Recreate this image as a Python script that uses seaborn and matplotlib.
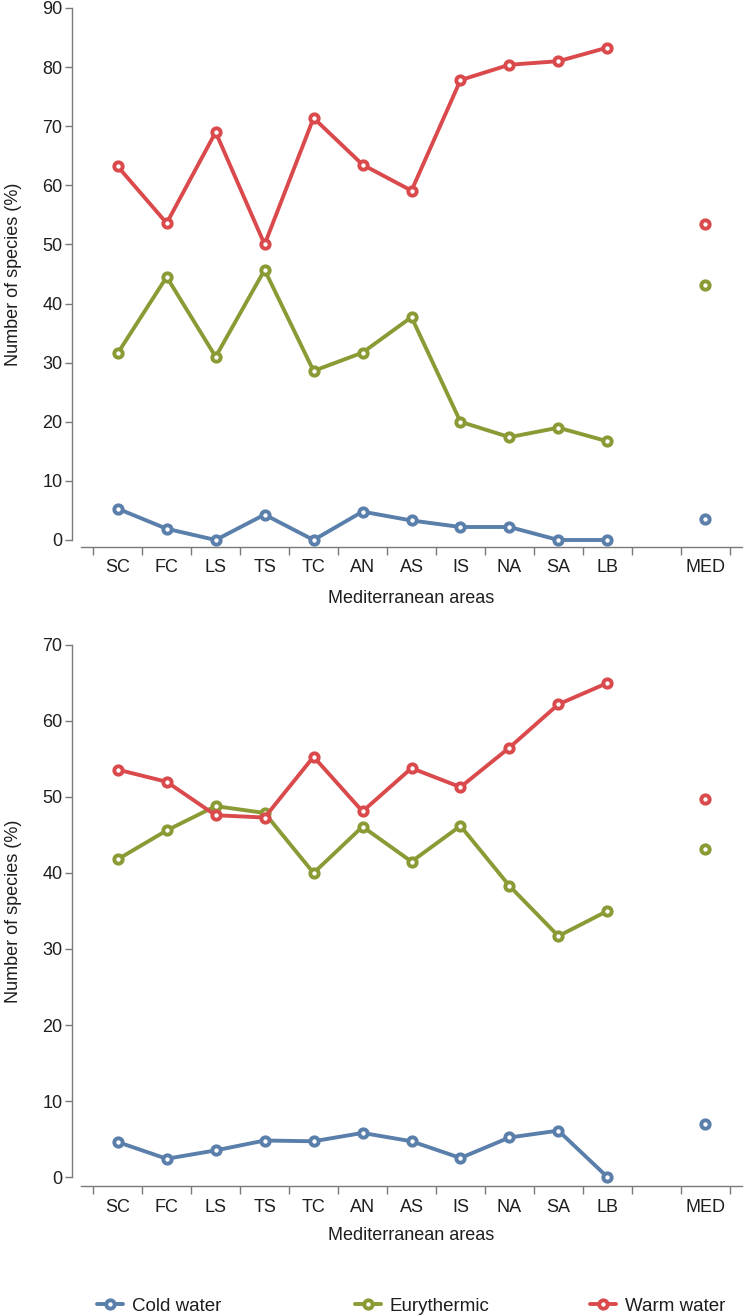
import matplotlib
matplotlib.use('Agg')
import matplotlib.pyplot as plt
import numpy as np
import pandas as pd
import seaborn as sns

# 海域（从西到东），MED = 全地中海
AREAS = ['SC', 'FC', 'LS', 'TS', 'TC', 'AN', 'AS', 'IS', 'NA', 'SA', 'LB']
OVERALL = 'MED'
GROUPS = ['Cold water', 'Eurythermic', 'Warm water']
COLORS = ['#5a7fab', '#8c9a35', '#da4a4c']

# 上图 (%)
COLD_A = [5.3, 1.9, 0.0, 4.3, 0.0, 4.8, 3.3, 2.2, 2.2, 0.0, 0.0]
EURY_A = [31.6, 44.5, 31.0, 45.7, 28.6, 31.7, 37.7, 20.0, 17.4, 19.0, 16.7]
WARM_A = [63.2, 53.6, 69.0, 50.0, 71.4, 63.5, 59.1, 77.8, 80.4, 81.0, 83.3]
MED_A = [3.5, 43.1, 53.5]

# 下图 (%)
COLD_B = [4.6, 2.4, 3.5, 4.8, 4.7, 5.8, 4.7, 2.5, 5.2, 6.1, 0.0]
EURY_B = [41.8, 45.6, 48.8, 47.9, 40.0, 46.1, 41.5, 46.2, 38.3, 31.7, 35.0]
WARM_B = [53.6, 52.0, 47.6, 47.3, 55.3, 48.1, 53.8, 51.3, 56.5, 62.2, 65.0]
MED_B = [7.0, 43.2, 49.8]

YMAX_A = 90
YMAX_B = 70

# 分类位置，MED 前空一格
POS = list(range(len(AREAS)))
MED_POS = len(AREAS) + 1

sns.set_theme(style='ticks')
plt.rcParams['font.family'] = ['Liberation Sans', 'DejaVu Sans']
plt.rcParams['font.size'] = 13
plt.rcParams['xtick.labelsize'] = 13
plt.rcParams['ytick.labelsize'] = 13
plt.rcParams['axes.labelsize'] = 13
plt.rcParams['legend.fontsize'] = 13
plt.rcParams['axes.edgecolor'] = '#7a7a7a'
plt.rcParams['axes.linewidth'] = 1.0
plt.rcParams['xtick.color'] = '#7a7a7a'
plt.rcParams['ytick.color'] = '#7a7a7a'
plt.rcParams['xtick.labelcolor'] = '#1e1e1e'
plt.rcParams['ytick.labelcolor'] = '#1e1e1e'
plt.rcParams['text.color'] = '#1e1e1e'
plt.rcParams['axes.labelcolor'] = '#1e1e1e'


def build_frame(cold, eury, warm):
    rows = []
    for g, vals in zip(GROUPS, (cold, eury, warm)):
        for p, a, v in zip(POS, AREAS, vals):
            rows.append({'area': a, 'pos': p, 'group': g, 'value': v})
    return pd.DataFrame(rows)


def draw_panel(ax, df, med, ymax, bottom_offset):
    for i, (g, c) in enumerate(zip(GROUPS, COLORS)):
        sub = df[df['group'] == g]
        sns.lineplot(data=sub, x='pos', y='value', ax=ax, color=c,
                     linewidth=2.8, marker='o', markersize=6,
                     markeredgewidth=2.8, markerfacecolor='white',
                     markeredgecolor=c, label=g, errorbar=None,
                     legend=False, clip_on=False)
        sns.scatterplot(x=[MED_POS], y=[med[i]], ax=ax, s=36,
                        color='white', edgecolor=c, linewidth=2.8,
                        legend=False, clip_on=False, zorder=3)

    ax.set_xlim(-0.75, MED_POS + 0.75)
    ax.set_ylim(0, ymax)
    ax.set_yticks(range(0, ymax + 1, 10))

    # 主刻度在格子边界，标签放在次刻度
    ax.set_xticks(np.arange(-0.5, MED_POS + 1, 1))
    ax.set_xticklabels([])
    ax.set_xticks(POS + [MED_POS], minor=True)
    ax.set_xticklabels(AREAS + [OVERALL], minor=True)
    ax.tick_params(axis='x', which='major', length=5.5, width=1.0)
    ax.tick_params(axis='x', which='minor', length=0, pad=9)
    ax.tick_params(axis='y', length=5, width=1.0, pad=2)

    ax.set_xlabel('Mediterranean areas')
    ax.set_ylabel('Number of species (%)')
    ax.xaxis.set_label_coords(0.5, -0.094)
    ax.yaxis.set_label_coords(-0.09, 0.5)

    sns.despine(ax=ax, offset={'left': 6.5, 'bottom': bottom_offset})


fig = plt.figure(figsize=(7.5, 13.16), dpi=100)
ax1 = fig.add_axes([81 / 750, 1 - 540 / 1316, 661 / 750, 532 / 1316])
ax2 = fig.add_axes([81 / 750, 1 - 1177 / 1316, 661 / 750, 532 / 1316])

draw_panel(ax1, build_frame(COLD_A, EURY_A, WARM_A), MED_A, YMAX_A, 5)
draw_panel(ax2, build_frame(COLD_B, EURY_B, WARM_B), MED_B, YMAX_B, 6.5)

# 图例：三项分开放
handles, labels = ax1.get_legend_handles_labels()
legend_x = [97 / 750, 355 / 750, 590 / 750]
for h, lab, x in zip(handles, labels, legend_x):
    fig.legend([h], [lab], loc='center left', bbox_to_anchor=(x, 1 - 1306 / 1316),
               frameon=False, borderpad=0, borderaxespad=0,
               handlelength=1.4, handletextpad=0.45, fontsize=13.5)

fig.savefig('out.png', dpi=100)
plt.close(fig)
